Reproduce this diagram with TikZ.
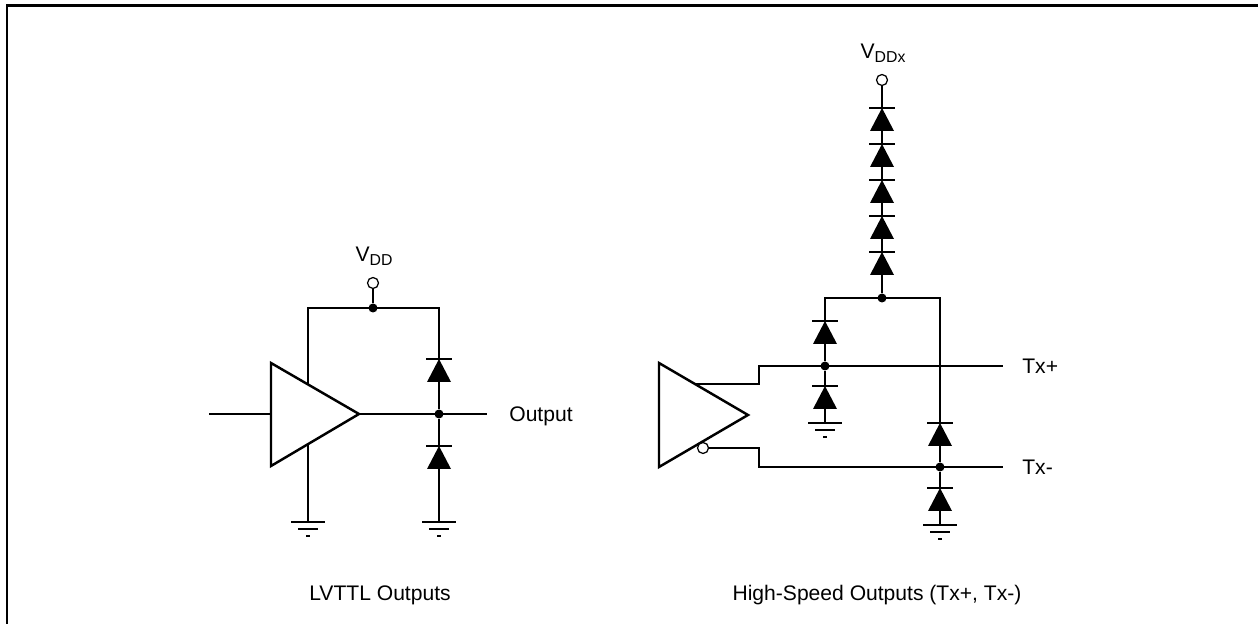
\documentclass[tikz,border=0pt]{standalone}
\usepackage{fontspec}
\setmainfont{Liberation Sans}
\usepackage{tikz}
\usetikzlibrary{calc, positioning}
\newcommand{\lowsub}[1]{\raisebox{-0.35ex}{\fontsize{9}{9}\selectfont #1}}
\tikzset{
    wire/.style={line width=0.85pt, draw=black},
    dot/.style={circle, fill=black, inner sep=0pt, minimum size=0.18cm},
    term/.style={circle, draw=black, line width=0.7pt, fill=white, inner sep=0pt, minimum size=0.22cm},
    amp/.style={draw=black, line width=1.4pt, fill=white, line join=miter},
    txt/.style={font=\fontsize{12}{14}\selectfont, inner sep=0pt},
    diode/.pic={
        \fill[black] (0,0) -- (-12,23) -- (12,23) -- cycle;
        \draw[wire] (-13,0) -- (13,0);
        \coordinate (-k) at (0,0);
        \coordinate (-a) at (0,23);
    },
    gnd/.pic={
        \draw[wire] (-17,0) -- (17,0) (-10,7) -- (10,7) (-2,14) -- (2,14);
        \coordinate (-t) at (0,0);
    }
}

\begin{document}
\begin{tikzpicture}[x=0.02cm, y=-0.02cm]
    \useasboundingbox (0,0) rectangle (1258,624);
    % Frame
    \draw[line width=1.7pt] (1258,6) -- (7,6) -- (7,624);

    % LVTTL output stage
    \node[term] (vdd) at (373,283) {};
    \node[txt, anchor=base] (vddlbl) at (374,262) {V\lowsub{DD}};
    \node[dot] (j1) at (373,308) {};
    \coordinate (c1) at (308,308);
    \coordinate (c2) at (439,308);
    \coordinate (in1) at (209,414);
    \coordinate (o1) at (487,414);
    \pic (dl1) at (439,359) {diode};
    \node[dot] (out1) at (439,414) {};
    \pic (dl2) at (439,446) {diode};
    \pic (g1) at (308,522) {gnd};
    \pic (g2) at (439,522) {gnd};
    \draw[wire] (vdd) -- (j1);
    \draw[wire] (g1-t) -- (c1) -- (c2) -- (dl1-k);
    \draw[wire] (dl1-a) -- (out1) -- (dl2-k);
    \draw[wire] (dl2-a) -- (g2-t);
    \draw[wire] (in1) -- (o1);
    \draw[amp] (271,363) -- (271,466) -- (359,414) -- cycle;
    \node[txt, anchor=base west] (outlbl) at (509,422) {Output};

    % High-speed output stage
    \node[term] (vddx) at (882,80) {};
    \node[txt, anchor=base] (vddxlbl) at (883,59) {V\lowsub{DDx}};
    \node[dot] (j2) at (882,298) {};
    \foreach \i/\y in {1/108,2/144,3/180,4/216,5/252}
        \pic (ds\i) at (882,\y) {diode};
    \draw[wire] (vddx) -- (ds1-k);
    \foreach \i/\j in {1/2,2/3,3/4,4/5}
        \draw[wire] (ds\i-a) -- (ds\j-k);
    \draw[wire] (ds5-a) -- (j2);

    \coordinate (c3) at (825,298);
    \coordinate (c4) at (940,298);
    \pic (dp1) at (825,321) {diode};
    \node[dot] (txp) at (825,366) {};
    \pic (dp2) at (825,386) {diode};
    \pic (g3) at (825,423) {gnd};
    \pic (dn1) at (940,423) {diode};
    \node[dot] (txn) at (940,467) {};
    \pic (dn2) at (940,488) {diode};
    \pic (g4) at (940,525) {gnd};
    \draw[wire] (dp1-k) -- (c3) -- (c4) -- (dn1-k);
    \draw[wire] (dp1-a) -- (txp) -- (dp2-k) (dp2-a) -- (g3-t);
    \draw[wire] (dn1-a) -- (txn) -- (dn2-k) (dn2-a) -- (g4-t);

    % Differential driver
    \coordinate (p1) at (680,384);
    \coordinate (p2) at (759,384);
    \coordinate (p3) at (759,366);
    \coordinate (tp) at (1003,366);
    \coordinate (n2) at (759,448);
    \coordinate (n3) at (759,467);
    \coordinate (tn) at (1003,467);
    \draw[wire] (p1) -- (p2) -- (p3) -- (tp);
    \draw[amp] (659,363) -- (659,467) -- (748,415) -- cycle;
    \node[term] (bub) at (703,448) {};
    \draw[wire] (bub) -- (n2) -- (n3) -- (tn);
    \node[txt, anchor=base west] (txplbl) at (1022,374) {Tx+};
    \node[txt, anchor=base west] (txnlbl) at (1022,475) {Tx-};

    % Captions
    \node[txt, anchor=base] (cap1) at (380,601) {LVTTL Outputs};
    \node[txt, anchor=base] (cap2) at (877,601) {High-Speed Outputs (Tx+, Tx-)};
\end{tikzpicture}
\end{document}
